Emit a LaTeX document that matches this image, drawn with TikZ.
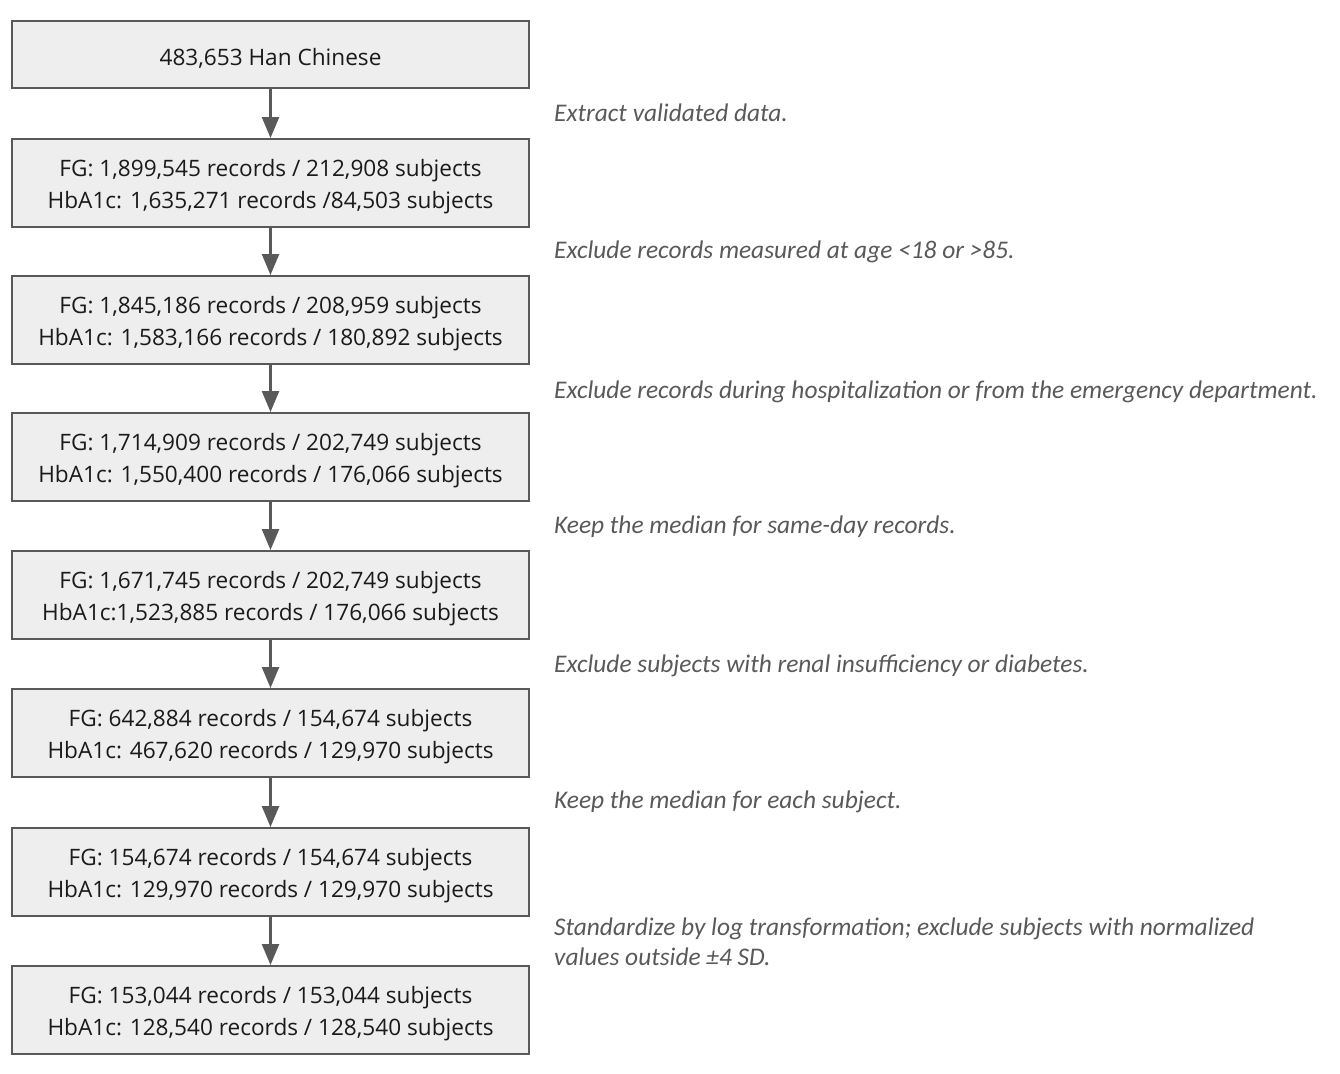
\documentclass[tikz,border=0pt]{standalone}
\usepackage{fontspec}
\setmainfont{Open Sans}
\newfontfamily\notefont{Carlito}
\usetikzlibrary{arrows.meta}
\definecolor{boxfill}{HTML}{EEEEEE}
\definecolor{boxline}{HTML}{595959}
\definecolor{notegray}{HTML}{595959}
\definecolor{textdark}{HTML}{1A1A1A}
\begin{document}
\begin{tikzpicture}[x=1pt,y=-1pt,
  boxtext/.style={align=center, text=textdark, inner sep=0pt, yshift=-3.5pt,
    font=\fontsize{22.6}{31.5}\selectfont},
  stage/.style={draw=boxline, fill=boxfill, line width=2pt, minimum width=517pt,
    minimum height=88pt, inner sep=0pt, label={[boxtext]center:#1}},
  note/.style={anchor=base west, inner sep=0pt, text=notegray, align=left,
    font=\notefont\fontsize{25.4}{30}\selectfont\itshape},
  flow/.style={draw=boxline, line width=2.5pt,
    -{Triangle[width=17pt,length=21pt]}}]
\useasboundingbox (0,0) rectangle (1340,1073);
\node[stage={483,653 Han Chinese}, minimum height=67pt] (s1) at (270.5,54.5) {};
\node[stage={FG: 1,899,545 records / 212,908 subjects\\HbA1c: 1,635,271 records /84,503 subjects}] (s2) at (270.5,183) {};
\node[stage={FG: 1,845,186 records / 208,959 subjects\\HbA1c: 1,583,166 records / 180,892 subjects}] (s3) at (270.5,320) {};
\node[stage={FG: 1,714,909 records / 202,749 subjects\\HbA1c: 1,550,400 records / 176,066 subjects}] (s4) at (270.5,457) {};
\node[stage={FG: 1,671,745 records / 202,749 subjects\\HbA1c:1,523,885 records / 176,066 subjects}] (s5) at (270.5,595) {};
\node[stage={FG: 642,884 records / 154,674 subjects\\HbA1c: 467,620 records / 129,970 subjects}] (s6) at (270.5,733) {};
\node[stage={FG: 154,674 records / 154,674 subjects\\HbA1c: 129,970 records / 129,970 subjects}] (s7) at (270.5,872) {};
\node[stage={FG: 153,044 records / 153,044 subjects\\HbA1c: 128,540 records / 128,540 subjects}] (s8) at (270.5,1010) {};
\foreach \a/\b in {s1/s2,s2/s3,s3/s4,s4/s5,s5/s6,s6/s7,s7/s8}
  \draw[flow] (\a.south) -- (\b.north);
\node[note] (n1) at (554,121) {Extract validated data.};
\node[note] (n2) at (554,258.5) {Exclude records measured at age <18 or >85.};
\node[note] (n3) at (554,398.5) {Exclude records during hospitalization or from the emergency department.};
\node[note] (n4) at (554,533.5) {Keep the median for same-day records.};
\node[note] (n5) at (554,672) {Exclude subjects with renal insufficiency or diabetes.};
\node[note] (n6) at (554,808.5) {Keep the median for each subject.};
\node[note] (n7) at (554,965.5) {Standardize by log transformation; exclude subjects with normalized\\values outside ±4 SD.};
\end{tikzpicture}
\end{document}
